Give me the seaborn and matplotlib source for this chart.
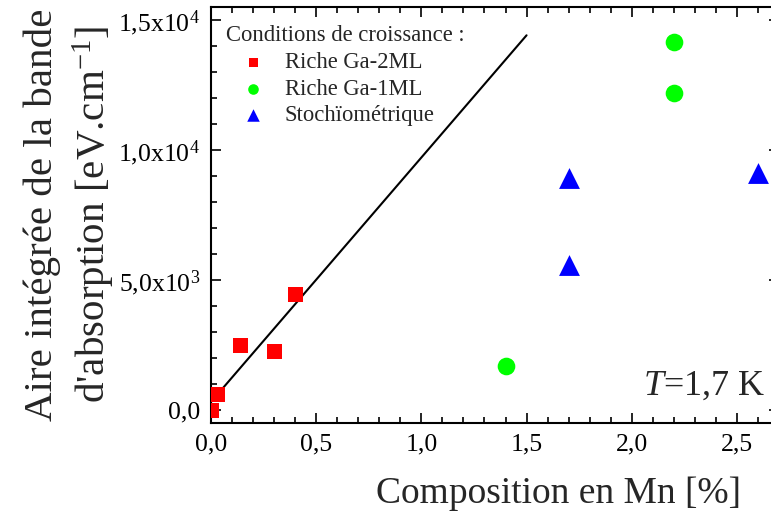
import pandas as pd
import matplotlib
matplotlib.use("Agg")
import matplotlib.pyplot as plt
import seaborn as sns
from matplotlib.ticker import MultipleLocator, FuncFormatter

# Data
ga2ml_x = [0.0, 0.03, 0.14, 0.30, 0.40]
ga2ml_y = [0, 600, 2500, 2250, 4450]
ga1ml_x = [1.40, 2.20, 2.20]
ga1ml_y = [1700, 14150, 12200]
stoich_x = [1.70, 1.70, 2.60]
stoich_y = [8900, 5550, 9100]

fit_x = [0.0, 1.5]
fit_y = [300, 14400]

labels = ["Riche Ga-2ML", "Riche Ga-1ML", "Stochïométrique"]
colors = ["#ff0000", "#00ff00", "#0000ff"]
markers = ["s", "o", "^"]
marker_pts = [10.8, 12.7, 15.0]

y_ticks = [0, 5000, 10000, 15000]
y_ticklabels = ["0,0", "5,0x10$^{3}$", "1,0x10$^{4}$", "1,5x10$^{4}$"]

sns.set_style("ticks")
plt.rcParams['font.family'] = ['Liberation Serif', 'DejaVu Serif']
plt.rcParams['mathtext.fontset'] = 'custom'
plt.rcParams['mathtext.rm'] = 'Liberation Serif'
plt.rcParams['mathtext.it'] = 'Liberation Serif:italic'

df = pd.concat([
    pd.DataFrame({"x": ga2ml_x, "y": ga2ml_y, "cond": labels[0]}),
    pd.DataFrame({"x": ga1ml_x, "y": ga1ml_y, "cond": labels[1]}),
    pd.DataFrame({"x": stoich_x, "y": stoich_y, "cond": labels[2]}),
])

fig = plt.figure(figsize=(7.71, 5.15), dpi=100)
ax = fig.add_axes([211 / 771, 1 - 422.7 / 515, 568 / 771, 416 / 515])

sns.lineplot(x=fit_x, y=fit_y, color="black", linewidth=1.5, ax=ax)

for lab, col, mk, ms in zip(labels, colors, markers, marker_pts):
    sub = df[df["cond"] == lab]
    sns.scatterplot(data=sub, x="x", y="y", color=col, marker=mk, s=ms ** 2,
                    linewidth=0, label=lab, ax=ax, clip_on=True, zorder=3)

ax.set_xlim(0, 2.7)
ax.set_ylim(-500, 15500)
ax.xaxis.set_major_locator(MultipleLocator(0.5))
ax.xaxis.set_minor_locator(MultipleLocator(0.1))
ax.xaxis.set_major_formatter(FuncFormatter(lambda v, p: f"{v:.1f}".replace(".", ",")))
ax.set_yticks(y_ticks)
ax.set_yticklabels(y_ticklabels)
ax.yaxis.set_minor_locator(MultipleLocator(1000))

ax.tick_params(which="both", direction="in", top=True, right=True, width=1.2,
               labelsize=18.5, color="black", labelcolor="black")
ax.tick_params(which="major", length=7)
ax.tick_params(axis="y", which="major", pad=8)
ax.tick_params(axis="x", which="major", pad=8)
ax.tick_params(which="minor", length=4)
for s in ax.spines.values():
    s.set_linewidth(1.5)
    s.set_color("black")

ax.set_xlabel("Composition en Mn [%]", fontsize=27)
ax.xaxis.set_label_coords((559 - 211) / 568, -0.13)
ax.set_ylabel("Aire intégrée de la bande\nd'absorption [eV.cm$^{-1}$]", fontsize=29.5,
              linespacing=1.3)
ax.yaxis.set_label_coords(-0.165, 0.5)

ax.text(0.975, 0.067, "$T$=1,7 K", transform=ax.transAxes, ha="right",
        va="baseline", fontsize=26)

leg = ax.legend(title="Conditions de croissance :", loc="upper left",
                bbox_to_anchor=(0.002, 0.988), frameon=False, fontsize=16.3,
                title_fontsize=16.3, markerscale=0.6, alignment="left",
                labelspacing=0.25, handlelength=2.4, handletextpad=0.2,
                borderaxespad=0.2)

fig.savefig("out.png", dpi=100)
